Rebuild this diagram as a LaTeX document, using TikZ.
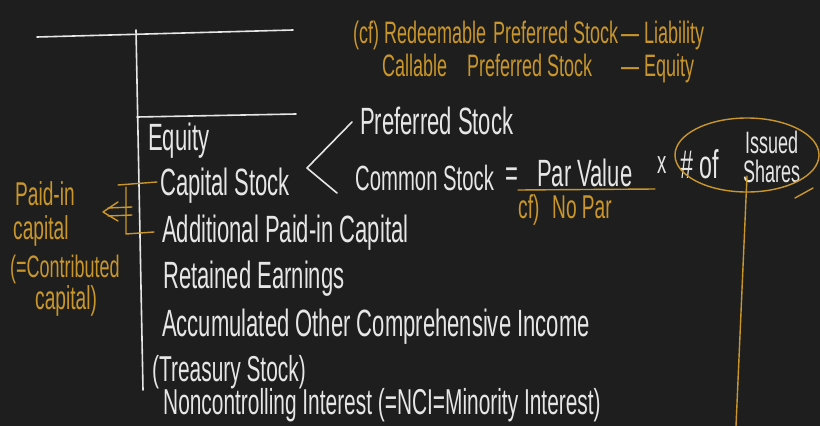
\documentclass[tikz,border=0pt]{standalone}
\usepackage{fontspec}
\setmainfont[FakeStretch=0.58]{Liberation Sans}
\definecolor{bg}{HTML}{1E1E1E}
\definecolor{ink}{HTML}{E6E6E6}
\definecolor{gold}{HTML}{C9962B}
\begin{document}
\begin{tikzpicture}[x=1pt,y=-1pt,
  w/.style={anchor=base west, inner sep=0pt, text=ink, font=\fontsize{38}{38}\selectfont},
  o/.style={anchor=base west, inner sep=0pt, text=gold, font=\fontsize{31}{31}\selectfont},
  wl/.style={draw=ink, line width=1.6pt, line cap=round, line join=round},
  ol/.style={draw=gold, line width=1.4pt, line cap=round, line join=round}]
\fill[bg] (0,0) rectangle (820,426);
\useasboundingbox (0,0) rectangle (820,426);

% T-account lines
\coordinate (t1) at (37,37);
\coordinate (t2) at (293,30);
\coordinate (v1) at (136,30);
\coordinate (v2) at (143,390);
\coordinate (h1) at (137,117);
\coordinate (h2) at (296,114);
\draw[wl] (t1) -- (t2);
\draw[wl] (v1) -- (v2);
\draw[wl] (h1) -- (h2);

% top orange notes
\node[o] (r1) at (353,43) {(cf) Redeemable};
\node[o] (r1b) at (493,43) {Preferred Stock};
\node[o] (r2) at (621,43) {— Liability};
\node[o] (c1) at (382,76) {Callable};
\node[o] (c2) at (467,76) {Preferred Stock};
\node[o] (c3) at (621,76) {— Equity};

% equity items
\node[w] (eq) at (148,150) {Equity};
\node[w] (cs) at (160,195) {Capital Stock};
\node[w] (apic) at (162,242) {Additional Paid-in Capital};
\node[w] (re) at (163,288) {Retained Earnings};
\node[w] (aoci) at (162,336) {Accumulated Other Comprehensive Income};
\node[w, font=\fontsize{36}{36}\selectfont] (ts) at (152,381) {(Treasury Stock)};
\node[w, font=\fontsize{36}{36}\selectfont] (nci) at (163,414) {Noncontrolling Interest (=NCI=Minority Interest)};

% bracket <
\coordinate (b1) at (352,122);
\coordinate (b2) at (307,168);
\coordinate (b3) at (337,193);
\draw[wl] (b1) -- (b2) -- (b3);

\node[w] (ps) at (360,134) {Preferred Stock};
\node[w, font=\fontsize{35}{35}\selectfont] (cm) at (355,190) {Common Stock};
\node[w] (eqs) at (505,186) {=};
\node[w] (pv) at (537,186) {Par Value};
\node[w, font=\fontsize{32}{32}\selectfont] (x) at (657,173) {x};
\node[w, font=\fontsize{40}{40}\selectfont] (of) at (680,178) {\# of};
\node[w, font=\fontsize{31}{31}\selectfont] (iss) at (745,153) {Issued};
\node[w, font=\fontsize{31}{31}\selectfont] (sh) at (743,182) {Shares};

% Par value underline and no par
\coordinate (u1) at (518,190);
\coordinate (u2) at (655,189);
\draw[ol] (u1) -- (u2);
\node[o, font=\fontsize{33}{33}\selectfont] (cf) at (518,218) {cf)};
\node[o, font=\fontsize{33}{33}\selectfont] (np) at (552,218) {No Par};

% ellipse around issued shares
\draw[ol] (747,155) ellipse [x radius=72, y radius=37];
\coordinate (e1) at (795,198);
\coordinate (e2) at (813,188);
\draw[ol] (e1) -- (e2);
\coordinate (l1) at (747,176);
\coordinate (l2) at (736,426);
\draw[ol] (l1) -- (l2);

% paid-in capital bracket
\coordinate (p1) at (157,182);
\coordinate (p2) at (118,185);
\coordinate (p3) at (126,187);
\coordinate (p4) at (126,234);
\coordinate (p5) at (154,232);
\draw[ol] (p1) -- (p2);
\draw[ol] (p3) -- (p4) -- (p5);
\coordinate (a0) at (103,212);
\coordinate (a1) at (118,202);
\coordinate (a2) at (118,221);
\coordinate (a3) at (132,207);
\coordinate (a4) at (108,208);
\coordinate (a5) at (132,215);
\coordinate (a6) at (108,216);
\draw[ol] (a1) -- (a0) -- (a2);
\draw[ol] (a3) -- (a4);
\draw[ol] (a5) -- (a6);

\node[o, font=\fontsize{33}{33}\selectfont] (pi1) at (15,205) {Paid-in};
\node[o, font=\fontsize{33}{33}\selectfont] (pi2) at (13,239) {capital};
\node[o, font=\fontsize{31}{31}\selectfont] (pi3) at (10,277) {(=Contributed};
\node[o, font=\fontsize{33}{33}\selectfont] (pi4) at (35,309) {capital)};
\end{tikzpicture}
\end{document}
